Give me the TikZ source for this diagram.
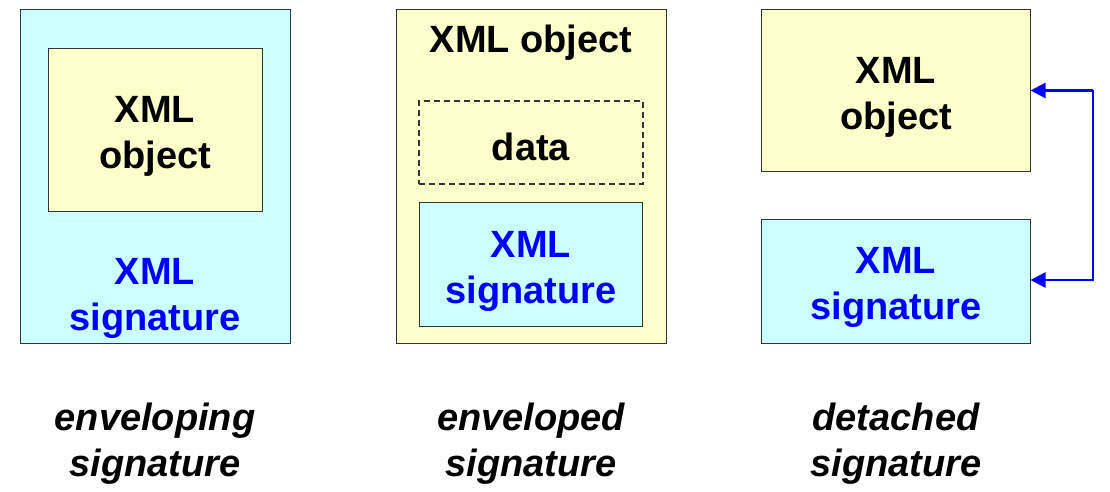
\documentclass[tikz,border=0pt]{standalone}
\usepackage{fontspec}
\setmainfont{Liberation Sans}
\usetikzlibrary{arrows.meta}
\definecolor{cyanbox}{HTML}{CCFFFF}
\definecolor{yelbox}{HTML}{FFFFCC}
\definecolor{sigblue}{HTML}{0000FF}
\begin{document}
\begin{tikzpicture}[x=1pt,y=-1pt,
  box/.style={draw=black!80, line width=1pt, inner sep=0pt, minimum width=#1},
  ybox/.style={box=#1, fill=yelbox},
  cbox/.style={box=#1, fill=cyanbox},
  lbl/.style={align=center, inner sep=0pt, font=\fontsize{38}{46}\selectfont\bfseries},
  captxt/.style={align=center, inner sep=0pt, font=\fontsize{38}{46}\selectfont\bfseries\itshape},
  conn/.style={draw=sigblue, line width=2.4pt, -{Triangle[length=15pt,width=15pt]}}
]
\useasboundingbox (0,0) rectangle (1110,492);
% enveloping
\node[cbox=270pt, minimum height=333pt] (lo) at (155,176.5) {};
\node[ybox=214pt, minimum height=162pt] (li) at (155,130) {};
\node[lbl] (lit) at (155,136) {XML\\object};
\node[lbl, text=sigblue] (lot) at (155,298) {XML\\signature};
% enveloped
\node[ybox=270pt, minimum height=333pt] (mo) at (531,176.5) {};
\node[lbl] (mot) at (531,43) {XML object};
\node[box=224pt, minimum height=83pt, dashed, dash pattern=on 6pt off 4pt, line width=1.2pt] (md) at (531,142.5) {};
\node[lbl] (mdt) at (531,147) {data};
\node[cbox=223pt, minimum height=124pt] (ms) at (530.5,264) {};
\node[lbl, text=sigblue] (mst) at (531,271) {XML\\signature};
% detached
\node[ybox=269pt, minimum height=161pt] (rt) at (895.5,90.5) {};
\node[lbl] (rtt) at (896,97) {XML\\object};
\node[cbox=269pt, minimum height=124pt] (rb) at (895.5,281) {};
\node[lbl, text=sigblue] (rbt) at (896,287) {XML\\signature};
\coordinate (rtx) at (rt.east);
\coordinate (rbx) at ([yshift=1pt]rb.east);
\coordinate (bend) at (1093,90.5);
\draw[conn] (bend) -- (rtx);
\draw[conn] (bend) |- (rbx);
% captions
\node[captxt] (c1) at (155,444) {enveloping\\signature};
\node[captxt] (c2) at (531,444) {enveloped\\signature};
\node[captxt] (c3) at (896,444) {detached\\signature};
\end{tikzpicture}
\end{document}
